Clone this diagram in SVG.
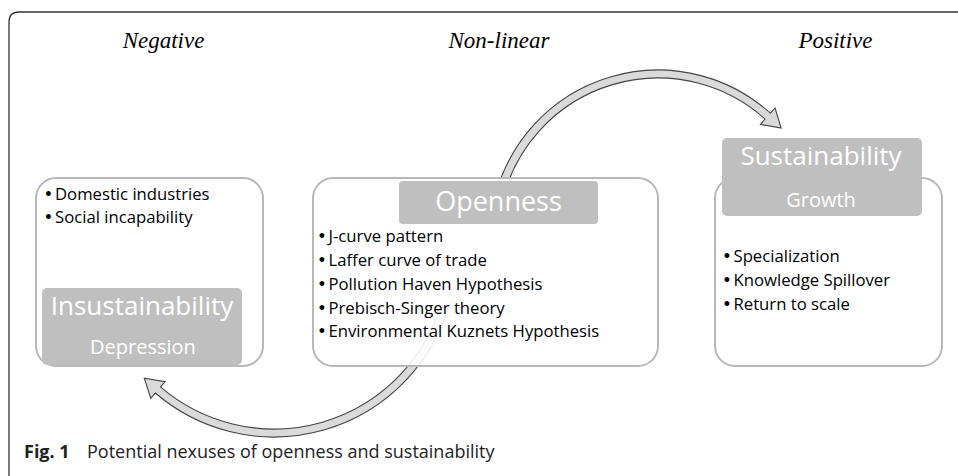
<svg xmlns="http://www.w3.org/2000/svg" width="958" height="476" viewBox="0 0 958 476">
<style>
.title{font-family:"Liberation Serif","Times New Roman",serif;font-style:italic;font-size:23px;fill:#000;text-anchor:middle}
.box{fill:#fff;fill-opacity:0.9;stroke:#b8b8b8;stroke-width:2}
.lab{fill:#bfbfbf;stroke:none}
.big{font-family:"Open Sans","Noto Sans",sans-serif;font-size:26px;fill:#fff;text-anchor:middle}
.sub{font-family:"Open Sans","Noto Sans",sans-serif;font-size:20px;fill:#fff;text-anchor:middle}
.item{font-family:"Open Sans","Noto Sans",sans-serif;font-size:16.7px;fill:#000}
.bul{font-family:"Liberation Sans",Arial,sans-serif;font-size:18px;text-anchor:middle}
.arrow{fill:#dadada;stroke:#444;stroke-width:1.1;stroke-linejoin:miter}
.cap{font-family:"Open Sans","Noto Sans",sans-serif;font-size:18px;fill:#222}
</style>
<path d="M9 476 L9 22 Q9 12 19 12 L958 12" fill="none" stroke="#333" stroke-width="1.3"/>
<g id="titles">
<text class="title" x="163.5" y="48">Negative</text>
<text class="title" x="499" y="48">Non-linear</text>
<text class="title" x="835.5" y="48">Positive</text>
</g>
<g id="connectors">
<path class="arrow" d="M495.7 194.5 A168 168 0 0 1 770.4 113.2 L775.1 108 L781.1 128.1 L760.4 124.3 L765.1 119.1 A160 160 0 0 0 503.5 196.6 Z"/>
<path class="arrow" d="M448 308.2 A182 182 0 0 1 155.3 393 L150.8 398.3 L144.3 378.2 L165.1 381.6 L160.5 386.9 A174 174 0 0 0 440.4 305.9 Z"/>
</g>
<g id="negative">
<rect class="box" x="36" y="178" width="227" height="188" rx="20"/>
<text class="item"><tspan class="bul" x="48.5" y="200">•</tspan><tspan x="55" y="200">Domestic industries</tspan></text>
<text class="item"><tspan class="bul" x="48.5" y="223">•</tspan><tspan x="55" y="223">Social incapability</tspan></text>
<rect class="lab" x="42" y="288" width="200" height="77" rx="5"/>
<text class="big" x="142" y="315">Insustainability</text>
<text class="sub" x="143" y="354">Depression</text>
</g>
<g id="openness">
<rect class="box" x="313" y="178" width="345" height="188" rx="20"/>
<rect class="lab" x="399" y="181" width="199" height="43" rx="4"/>
<text class="big" x="498.5" y="211" style="font-size:27px">Openness</text>
<text class="item"><tspan class="bul" x="322" y="242">•</tspan><tspan x="328.5" y="242">J-curve pattern</tspan></text>
<text class="item"><tspan class="bul" x="322" y="266">•</tspan><tspan x="328.5" y="266">Laffer curve of trade</tspan></text>
<text class="item"><tspan class="bul" x="322" y="290">•</tspan><tspan x="328.5" y="290">Pollution Haven Hypothesis</tspan></text>
<text class="item"><tspan class="bul" x="322" y="313.5">•</tspan><tspan x="328.5" y="313.5">Prebisch-Singer theory</tspan></text>
<text class="item"><tspan class="bul" x="322" y="337">•</tspan><tspan x="328.5" y="337">Environmental Kuznets Hypothesis</tspan></text>
</g>
<g id="positive">
<rect class="box" x="715" y="178" width="227" height="188" rx="20"/>
<rect class="lab" x="722" y="138" width="200" height="78" rx="5"/>
<text class="big" x="821" y="165">Sustainability</text>
<text class="sub" x="821" y="207">Growth</text>
<text class="item"><tspan class="bul" x="727" y="262">•</tspan><tspan x="733.5" y="262">Specialization</tspan></text>
<text class="item"><tspan class="bul" x="727" y="286">•</tspan><tspan x="733.5" y="286">Knowledge Spillover</tspan></text>
<text class="item"><tspan class="bul" x="727" y="310">•</tspan><tspan x="733.5" y="310">Return to scale</tspan></text>
</g>
<text class="cap" x="24" y="458"><tspan font-weight="bold">Fig. 1</tspan><tspan x="87">Potential nexuses of openness and sustainability</tspan></text>
</svg>
